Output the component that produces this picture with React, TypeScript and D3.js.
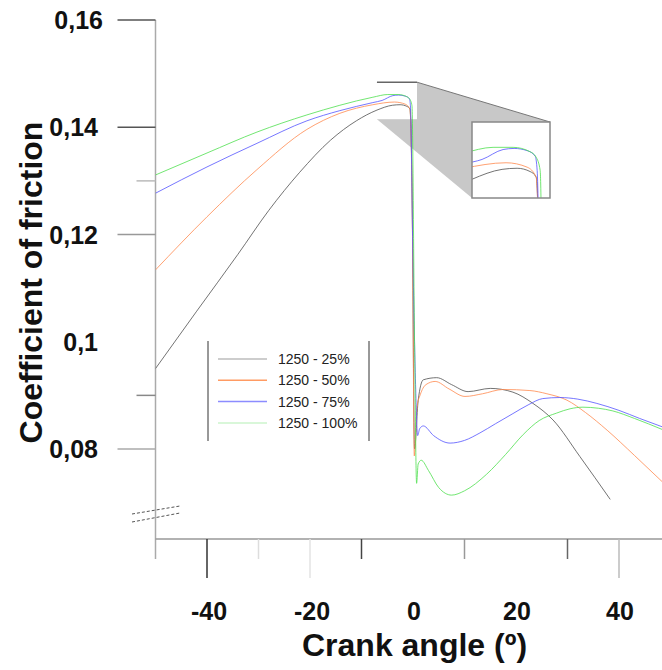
import React from "react";
import * as d3 from "d3";

const W = 662;
const H = 670;

// axis ticks / labels
const xTickValues = [-40, -30, -20, -10, 10, 30, 40];
const xLabelValues = [-40, -20, 0, 20, 40];
const yTickValues = [0.16, 0.14, 0.13, 0.12, 0.09, 0.08];
const yLabelValues = [0.16, 0.14, 0.12, 0.1, 0.08];
const yLabelTexts = ["0,16", "0,14", "0,12", "0,1", "0,08"];
const seriesNames = ["1250 - 25%", "1250 - 50%", "1250 - 75%", "1250 - 100%"];

// series: 1250 - 25%
const x25 = [-50, -42, -34, -28, -22, -16, -11, -7, -4, -2.5, -1.2, -0.6, -0.2, 0.3, 1.0, 2.0, 4.6, 7.5, 10.7, 15, 19.4, 23.3, 27.2, 32.4, 38.3];
const y25 = [0.095, 0.1057, 0.1163, 0.1245, 0.1316, 0.1376, 0.1412, 0.1432, 0.1441, 0.1442, 0.1439, 0.1434, 0.13, 0.08, 0.089, 0.0929, 0.0933, 0.092, 0.0907, 0.0913, 0.0906, 0.0885, 0.0854, 0.0786, 0.0706];
// series: 1250 - 50%
const x50 = [-50, -40, -30.3, -20.6, -14.2, -7.8, -3.6, -1.5, -0.6, -0.1, 0.25, 0.8, 1.4, 2.5, 4.3, 7, 10.1, 13.5, 17.5, 22.7, 26, 29.9, 33.5, 37.7, 43, 48.5];
const y50 = [0.1134, 0.1233, 0.1321, 0.1396, 0.1426, 0.1442, 0.1447, 0.1443, 0.1434, 0.12, 0.0787, 0.088, 0.0901, 0.092, 0.0926, 0.0912, 0.0898, 0.0903, 0.0911, 0.0909, 0.0903, 0.0891, 0.0868, 0.0835, 0.0788, 0.0738];
// series: 1250 - 75%
const x75 = [-50, -40, -30.3, -20.6, -14.2, -7.8, -6, -3.9, -2.8, -1.5, -0.7, -0.5, 0.0, 0.5, 0.9, 1.3, 2, 4, 7.2, 10, 13, 16, 19.4, 22.5, 25.2, 28.5, 32, 35.7, 40, 44, 48.5];
const y75 = [0.1277, 0.1326, 0.137, 0.1412, 0.1431, 0.1446, 0.145, 0.1459, 0.146, 0.1458, 0.1453, 0.144, 0.115, 0.092, 0.0825, 0.0838, 0.0843, 0.0825, 0.0811, 0.0816, 0.083, 0.0847, 0.0866, 0.0883, 0.0894, 0.0896, 0.0893, 0.0885, 0.0872, 0.0857, 0.0841];
// series: 1250 - 100%
const x100 = [-50, -40, -30.3, -20.6, -14.2, -7.8, -4.9, -2.9, -1.2, -0.6, -0.2, 0.3, 0.7, 1.0, 1.6, 3, 5, 7.5, 10, 14.3, 18, 21.4, 24.5, 27.9, 30.5, 33, 36, 38.8, 43, 48.5];
const y100 = [0.1311, 0.1352, 0.1391, 0.1423, 0.1441, 0.1456, 0.1461, 0.1461, 0.1457, 0.1452, 0.144, 0.1, 0.0736, 0.0772, 0.0779, 0.076, 0.0728, 0.0714, 0.0722, 0.0753, 0.079, 0.0827, 0.0853, 0.0867, 0.0875, 0.0878, 0.0876, 0.0871, 0.0857, 0.0836];

// zoomed window (data units)
const zoomX = [-7.0, 0.78];
const zoomY = [0.1484, 0.1415];

const seriesX = [x25, x50, x75, x100];
const seriesY = [y25, y50, y75, y100];
const lineColors = ["#505050", "#ff8a4f", "#5555ff", "#4fe04f"];
const legendColors = ["#bdbdbd", "#ff9b63", "#8c8cff", "#ccf5cc"];

const FONT = "'Liberation Sans', Arial, sans-serif";

export default function App() {
  const x = d3.scaleLinear().domain([-50, 50]).range([155.5, 670.5]);
  const y = d3.scaleLinear().domain([0.08, 0.16]).range([449, 20]);

  const xi = d3.scaleLinear().domain(zoomX).range([472, 550]);
  const yi = d3.scaleLinear().domain(zoomY).range([122, 198]);

  const data = seriesX.map((xs, i) => xs.map((v, j) => [v, seriesY[i][j]] as [number, number]));

  const mainLine = d3
    .line<[number, number]>()
    .x((d) => x(d[0]))
    .y((d) => y(d[1]))
    .curve(d3.curveMonotoneX);
  const insetLine = d3
    .line<[number, number]>()
    .x((d) => xi(d[0]))
    .y((d) => yi(d[1]))
    .curve(d3.curveMonotoneX);

  const axisX = x(-50);
  const axisY = 539;

  const xTickStyle: Record<number, { len: number; color: string }> = {
    [-40]: { len: 39, color: "#333" },
    [-30]: { len: 20, color: "#ddd" },
    [-20]: { len: 39, color: "#e3e3e3" },
    [-10]: { len: 20, color: "#444" },
    [10]: { len: 20, color: "#999" },
    [30]: { len: 20, color: "#666" },
    [40]: { len: 39, color: "#bbb" },
  };
  const yTickStyle: Record<string, { len: number; color: string }> = {
    "0.16": { len: 38, color: "#555" },
    "0.14": { len: 38, color: "#555" },
    "0.13": { len: 19, color: "#bbb" },
    "0.12": { len: 38, color: "#999" },
    "0.09": { len: 19, color: "#888" },
    "0.08": { len: 38, color: "#aaa" },
  };

  // zoom source box & target box corners
  const sx0 = x(zoomX[0]);
  const sx1 = x(zoomX[1]);
  const sy0 = y(zoomY[0]);
  const sy1 = y(zoomY[1]);
  const tx0 = xi(zoomX[0]);
  const tx1 = xi(zoomX[1]);
  const ty0 = yi(zoomY[0]);
  const ty1 = yi(zoomY[1]);

  return (
    <svg
      width={W}
      height={H}
      style={{ position: "absolute", left: 0, top: 0, background: "#fff" }}
      fontFamily={FONT}
    >
      <defs>
        <clipPath id="plotClip">
          <rect x={axisX} y={0} width={W - axisX} height={axisY} />
        </clipPath>
        <clipPath id="insetClip">
          <rect x={tx0} y={ty0} width={tx1 - tx0} height={ty1 - ty0} />
        </clipPath>
      </defs>

      {/* zoom connector */}
      <polygon
        points={`${sx1},${sy0} ${tx1},${ty0} ${tx0},${ty1} ${sx0},${sy1}`}
        fill="#c8c8c8"
      />
      <line x1={sx1} y1={sy0} x2={tx1} y2={ty0} stroke="#777" strokeWidth={1} />
      <rect x={sx0} y={sy0} width={sx1 - sx0} height={sy1 - sy0} fill="#fff" />
      <line x1={sx0} y1={sy0} x2={sx1} y2={sy0} stroke="#666" strokeWidth={1.5} />
      <rect x={tx0} y={ty0} width={tx1 - tx0} height={ty1 - ty0} fill="#fff" />

      {/* y axis */}
      <line x1={axisX} y1={20} x2={axisX} y2={559} stroke="#aaa" strokeWidth={1.5} />
      {yTickValues.map((v) => {
        const s = yTickStyle[v.toFixed(2)];
        return (
          <line
            key={"yt" + v}
            x1={axisX - s.len}
            x2={axisX}
            y1={y(v)}
            y2={y(v)}
            stroke={s.color}
            strokeWidth={1.5}
          />
        );
      })}
      {yLabelValues.map((v, i) => (
        <text
          key={"yl" + v}
          x={i === 0 ? 103 : 98}
          y={y(v) + 9}
          textAnchor="end"
          fontSize={25}
          fontWeight="bold"
          fill="#111"
        >
          {yLabelTexts[i]}
        </text>
      ))}

      {/* x axis */}
      <line x1={axisX} y1={axisY} x2={W} y2={axisY} stroke="#999" strokeWidth={1.5} />
      {xTickValues.map((v) => {
        const s = xTickStyle[v];
        return (
          <line
            key={"xt" + v}
            x1={x(v)}
            x2={x(v)}
            y1={axisY}
            y2={axisY + s.len}
            stroke={s.color}
            strokeWidth={1.5}
          />
        );
      })}
      {xLabelValues.map((v) => (
        <text
          key={"xl" + v}
          x={x(v) + (v < 0 ? 2 : 1)}
          y={620}
          textAnchor="middle"
          fontSize={25}
          fontWeight="bold"
          fill="#111"
        >
          {String(v)}
        </text>
      ))}

      {/* axis break marks */}
      <line x1={132} y1={514} x2={180} y2={506} stroke="#555" strokeWidth={1} strokeDasharray="3,2" />
      <line x1={132} y1={522} x2={180} y2={513} stroke="#555" strokeWidth={1} strokeDasharray="3,2" />

      {/* titles */}
      <text
        x={414.5}
        y={656}
        textAnchor="middle"
        fontSize={32}
        fontWeight="bold"
        fill="#111"
      >
        Crank angle (º)
      </text>
      <text
        transform={`translate(42,282.5) rotate(-90)`}
        textAnchor="middle"
        fontSize={32}
        fontWeight="bold"
        fill="#111"
      >
        Coefficient of friction
      </text>

      {/* main curves */}
      <g clipPath="url(#plotClip)">
        {data.map((d, i) => (
          <path
            key={"s" + i}
            d={mainLine(d) || ""}
            fill="none"
            stroke={lineColors[i]}
            strokeWidth={1}
            strokeOpacity={0.8}
          />
        ))}
      </g>

      {/* inset curves */}
      <g clipPath="url(#insetClip)">
        {data.map((d, i) => (
          <path
            key={"i" + i}
            d={insetLine(d) || ""}
            fill="none"
            stroke={lineColors[i]}
            strokeWidth={1}
            strokeOpacity={0.8}
          />
        ))}
      </g>
      <rect
        x={tx0}
        y={ty0}
        width={tx1 - tx0}
        height={ty1 - ty0}
        fill="none"
        stroke="#888"
        strokeWidth={1.5}
      />

      {/* legend */}
      <line x1={208} y1={341} x2={208} y2={441} stroke="#333" strokeWidth={1} />
      <line x1={369} y1={341} x2={369} y2={441} stroke="#333" strokeWidth={1} />
      {seriesNames.map((name, i) => {
        const ly = 359 + i * 21.3;
        return (
          <g key={"lg" + i}>
            <line x1={218} x2={267} y1={ly} y2={ly} stroke={legendColors[i]} strokeWidth={1.5} />
            <text x={278} y={ly + 5} fontSize={14} fill="#222">
              {name}
            </text>
          </g>
        );
      })}
    </svg>
  );
}
